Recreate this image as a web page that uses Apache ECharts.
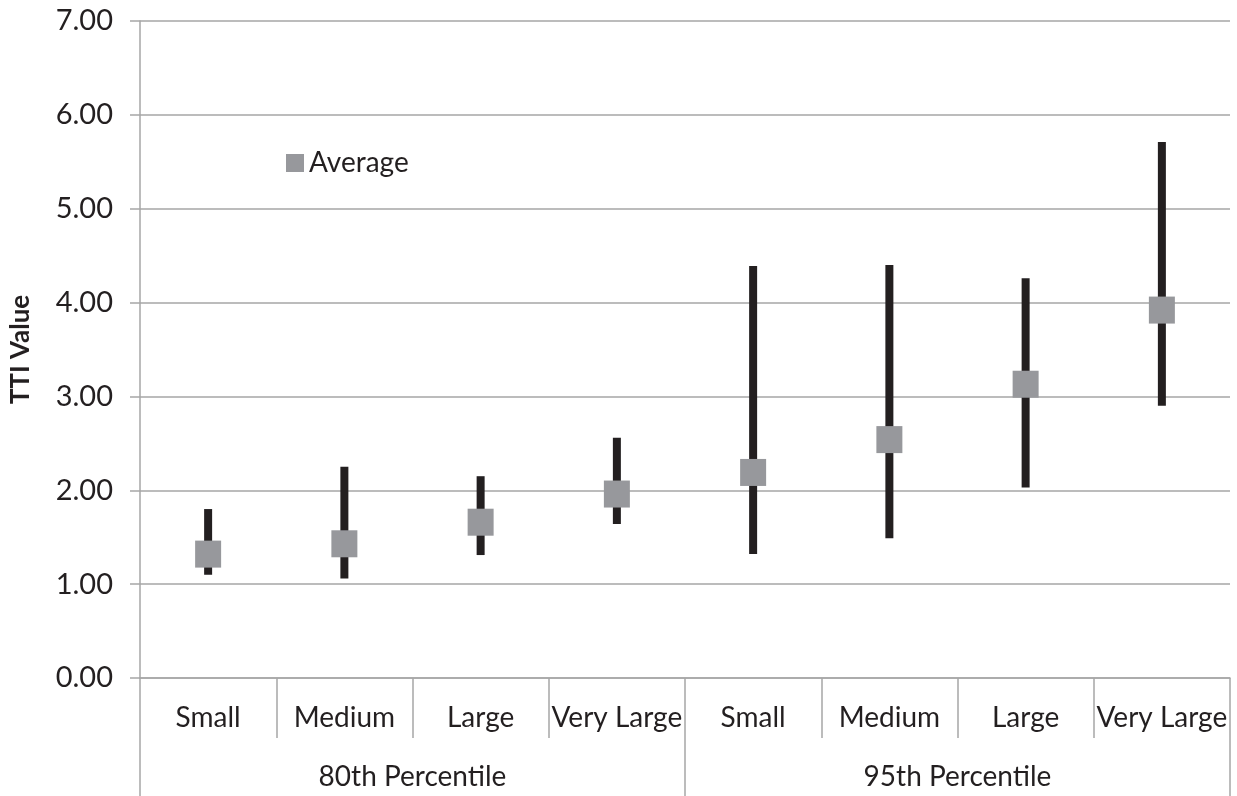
<!DOCTYPE html>
<html>
<head>
<meta charset="utf-8">
<script src="https://cdn.jsdelivr.net/npm/echarts@6/dist/echarts.min.js"></script>
<style>html,body{margin:0;padding:0;background:#fff;}#c{width:1237px;height:796px;}</style>
</head>
<body>
<div id="c"></div>
<script>
const categories = ['Small','Medium','Large','Very Large','Small','Medium','Large','Very Large'];
const groups = ['80th Percentile','95th Percentile'];
const lowValues  = [1.10, 1.06, 1.31, 1.64, 1.32, 1.49, 2.03, 2.90];
const highValues = [1.80, 2.25, 2.15, 2.56, 4.39, 4.40, 4.26, 5.71];
const avgValues  = [1.32, 1.43, 1.66, 1.96, 2.19, 2.54, 3.13, 3.92];
const yTicks = { min: 0, max: 7, interval: 1 };

const FONT = 'Lato';
const TXT = '#231f20';
const GRID = '#a6a6a6';

const rangeData = categories.map((c, i) => [i, lowValues[i], highValues[i]]);

const chart = echarts.init(document.getElementById('c'), null, {renderer: 'canvas'});
chart.setOption({
  animation: false,
  textStyle: { fontFamily: FONT, color: TXT },
  grid: { left: 138, right: 7, top: 21, bottom: 118 },
  legend: {
    left: 281, top: 144,
    itemWidth: 18, itemHeight: 18, itemGap: 6,
    data: [{ name: 'Average', icon: 'rect' }],
    textStyle: { fontFamily: FONT, fontSize: 28, color: TXT, padding: [0,0,0,0] }
  },
  xAxis: [
    {
      type: 'category', data: categories, position: 'bottom',
      boundaryGap: true,
      axisLine: { show: true, lineStyle: { color: GRID, width: 1.5 } },
      axisTick: { show: true, alignWithLabel: false, interval: 0, length: 60, lineStyle: { color: GRID, width: 1.5 } },
      axisLabel: { interval: 0, margin: 26, fontFamily: FONT, fontSize: 28, color: TXT }
    },
    {
      type: 'category', data: groups, position: 'bottom',
      boundaryGap: true,
      axisLine: { show: false },
      axisTick: { show: true, interval: 0, length: 118, lineStyle: { color: GRID, width: 1.5 } },
      axisLabel: { interval: 0, margin: 85, fontFamily: FONT, fontSize: 28, color: TXT }
    }
  ],
  yAxis: {
    type: 'value', min: yTicks.min, max: yTicks.max, interval: yTicks.interval,
    name: 'TTI Value', nameLocation: 'middle', nameGap: 106, nameRotate: 90,
    nameTextStyle: { fontFamily: FONT, fontSize: 26, fontWeight: 'bold', color: TXT },
    axisLine: { show: true, lineStyle: { color: GRID, width: 1.5 } },
    axisTick: { show: true, length: 10, lineStyle: { color: GRID, width: 1.5 } },
    splitLine: { show: true, lineStyle: { color: GRID, width: 1.5 } },
    axisLabel: { margin: 27, fontFamily: FONT, fontSize: 29, color: TXT, formatter: v => v.toFixed(2) }
  },
  series: [
    {
      type: 'custom', name: 'Range', xAxisIndex: 0,
      data: rangeData,
      encode: { x: 0, y: [1, 2] },
      renderItem: function (params, api) {
        const p1 = api.coord([api.value(0), api.value(1)]);
        const p2 = api.coord([api.value(0), api.value(2)]);
        const w = 8;
        return {
          type: 'rect',
          shape: { x: p1[0] - w / 2, y: p2[1], width: w, height: p1[1] - p2[1] },
          style: { fill: TXT }
        };
      },
      z: 2
    },
    {
      type: 'scatter', name: 'Average', xAxisIndex: 0,
      data: avgValues,
      symbol: 'rect', symbolSize: [26, 27],
      itemStyle: { color: '#97989c', opacity: 1 },
      z: 3
    }
  ]
});
</script>
</body>
</html>
